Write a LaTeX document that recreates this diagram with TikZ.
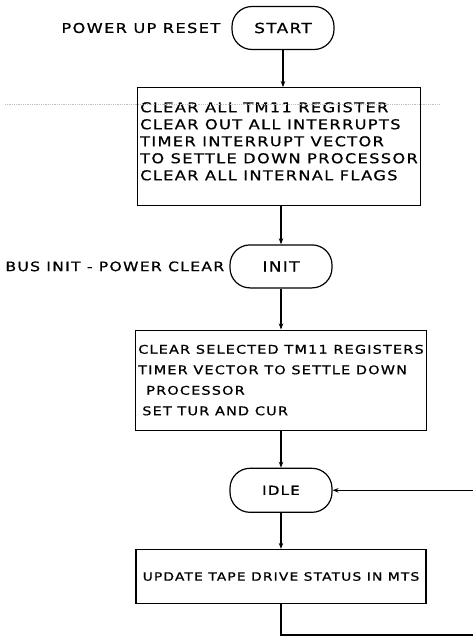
\documentclass[tikz,border=0pt]{standalone}
\usepackage{fontspec}
\setmainfont{DejaVu Sans}[FakeStretch=1.2,LetterSpace=10,FakeBold=0.8]
\usetikzlibrary{positioning,arrows.meta}

\begin{document}
\begin{tikzpicture}[x=1pt,y=-1pt,
    term/.style={rectangle,rounded corners=20pt,draw,line width=1.2pt,minimum width=102pt,minimum height=43pt,font=\fontsize{14}{16}\selectfont},
    proc/.style={rectangle,draw,line width=1.2pt,minimum width=290pt,align=left,inner sep=3pt,font=\fontsize{13.5}{17}\selectfont},
    side/.style={font=\fontsize{13.5}{15}\selectfont,inner sep=1pt},
    arrow/.style={-{Stealth[length=6pt,width=4.5pt]},line width=1.2pt}
]
\useasboundingbox (0,0) rectangle (472,637);

% Start of flow
\node[term] (start) at (283,28) {START};
\node[side,left=10pt of start] (powerup) {POWER UP RESET};

% Power up clearing
\node[proc,minimum width=282pt,minimum height=118pt,below=37pt of start,xshift=-4pt] (clearall) {CLEAR ALL TM11 REGISTER\\CLEAR OUT ALL INTERRUPTS\\TIMER INTERRUPT VECTOR\\TO SETTLE DOWN PROCESSOR\\CLEAR ALL INTERNAL FLAGS\\[-6pt]};
\draw[arrow] (start) -- (start |- clearall.north);

% faint rule across the page
\coordinate (rulel) at (5,104);
\coordinate (ruler) at (440,104);
\draw[gray!50,densely dotted,line width=0.8pt] (rulel) -- (ruler);

% Bus init
\node[term,below=38pt of clearall,xshift=2pt] (init) {INIT};
\node[side,left=4pt of init,font=\fontsize{13}{15}\selectfont] (businit) {BUS INIT - POWER CLEAR};
\draw[arrow] (clearall.south -| init) -- (init);

\node[proc,minimum height=100pt,below=41pt of init,font=\fontsize{12}{20.5}\selectfont] (clearsel) {CLEAR SELECTED TM11 REGISTERS\\TIMER VECTOR TO SETTLE DOWN\\\hspace{8pt}PROCESSOR\\\hspace{4pt}SET TUR AND CUR};
\draw[arrow] (init) -- (init |- clearsel.north);

% Idle loop
\node[term,minimum height=44pt,below=37pt of clearsel,font=\fontsize{12.5}{15}\selectfont] (idle) {IDLE};
\draw[arrow] (clearsel.south -| idle) -- (idle);

\node[proc,minimum height=54pt,below=36pt of idle,font=\fontsize{11.5}{15}\selectfont] (update) {UPDATE TAPE DRIVE STATUS IN MTS};
\draw[arrow] (idle) -- (idle |- update.north);

\coordinate (loopbr) at (474,635);
\draw[arrow] (update) |- (loopbr) |- (idle.east);

\end{tikzpicture}
\end{document}
